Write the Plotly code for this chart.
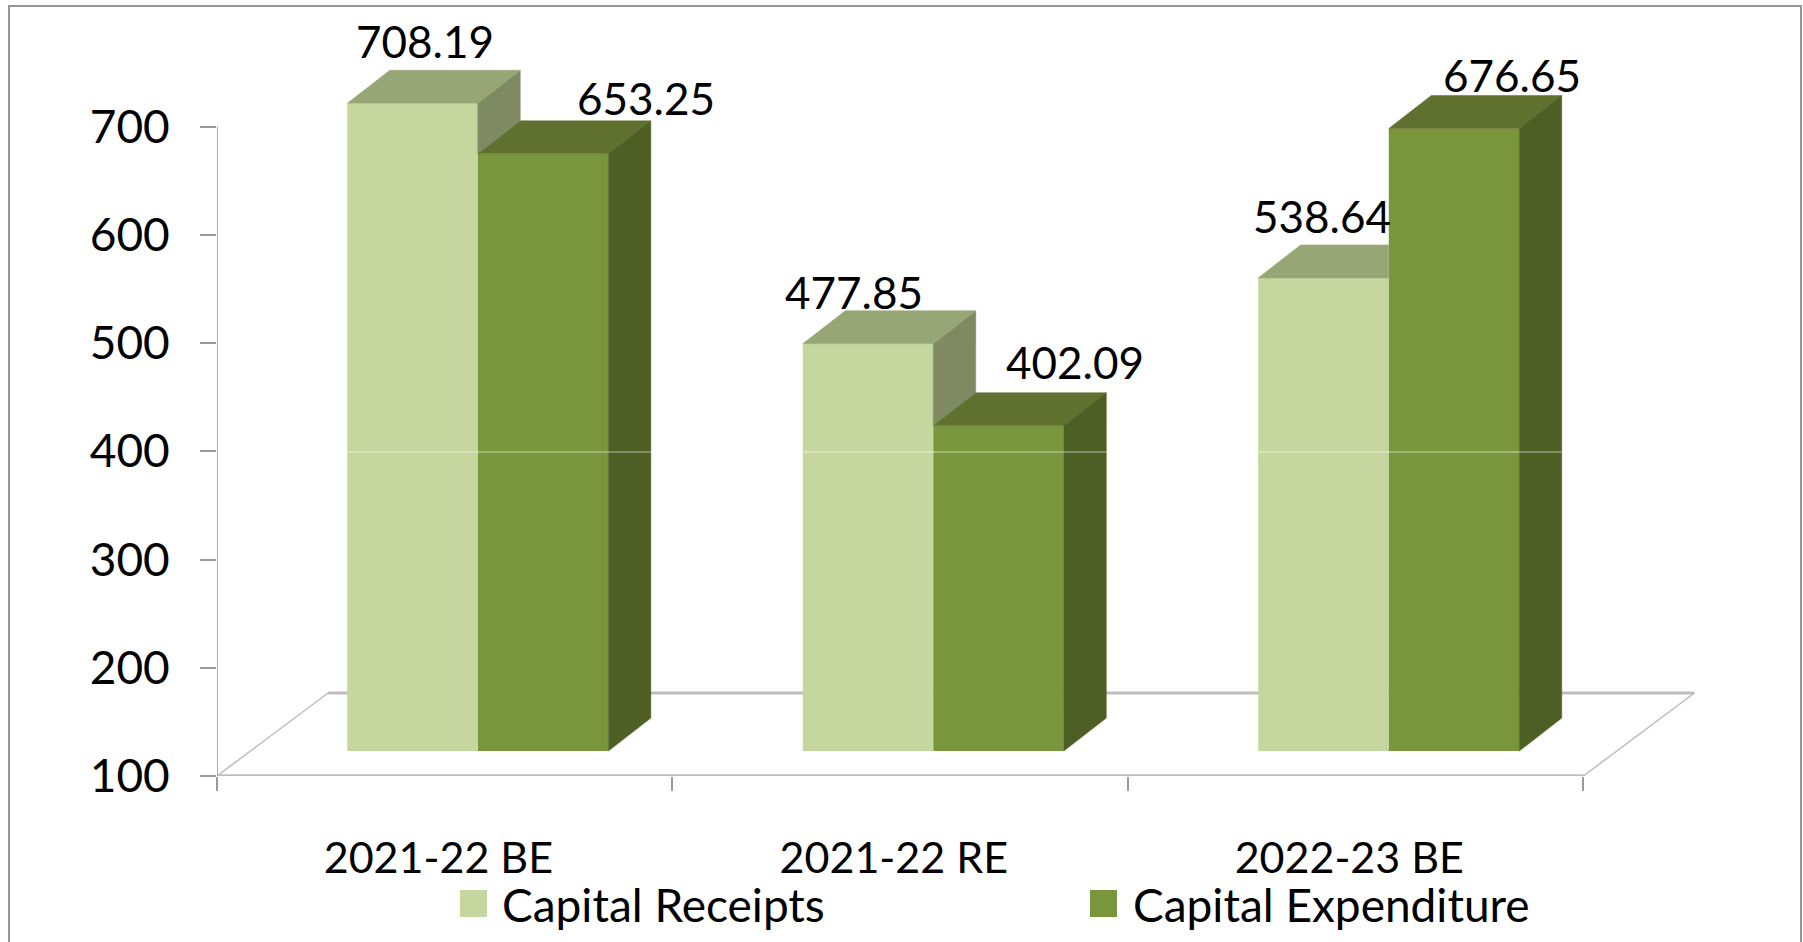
import plotly.graph_objects as go

# ---- data ----
categories = ["2021-22 BE", "2021-22 RE", "2022-23 BE"]
capital_receipts = [708.19, 477.85, 538.64]
capital_expenditure = [653.25, 402.09, 676.65]
series_names = ["Capital Receipts", "Capital Expenditure"]
y_ticks = [100, 200, 300, 400, 500, 600, 700]

# ---- layout constants ----
W, H = 1803, 942
FONT = "Lato"
FS_LABEL = 44
FS_TICK = 46
FS_CAT = 43
FS_LEGEND = 46
AXIS_MAX = 700            # the bars are clipped at the axis maximum
LIFT = 21.5               # front plane of the 3-D box, axis units
DEPTH_Y = 30.5            # depth of a bar, axis units
DEPTH_X = 0.0933          # depth of a bar, category units
BAR_W = 0.2865
LIGHT_C, DARK_C = -0.0707, 0.216
BASE = 123.0
FLOOR_DX, FLOOR_DY = 0.2438, 76.7
X_RANGE = [-0.5, 2.8]
Y_RANGE = [100, 770.7]
X_DOM = [217 / W, 1720 / W]
Y_DOM = [(H - 776) / H, (H - 50) / H]

COL_LIGHT, COL_DARK = "#C5D79E", "#7A963C"
COL_LIGHT_TOP, COL_DARK_TOP = "#97A675", "#60702E"
COL_LIGHT_SIDE, COL_DARK_SIDE = "#7F8A62", "#4E5F25"
GREY = "#BDBDBD"
TICK = "#9A9A9A"

fig = go.Figure()


def poly(xs, ys, color, name):
    fig.add_trace(go.Scatter(
        x=xs + xs[:1], y=ys + ys[:1], mode="lines", fill="toself", fillcolor=color,
        line=dict(color=color, width=0.5), xaxis="x2", yaxis="y2",
        hoverinfo="skip", showlegend=False, name=name))


# floor and axis lines on the base axes (below the bars)
fig.add_trace(go.Scatter(
    x=[-0.5, -0.5 + FLOOR_DX], y=[100, 100 + FLOOR_DY], mode="lines",
    line=dict(color=GREY, width=1.5), hoverinfo="skip", showlegend=False))
fig.add_trace(go.Scatter(
    x=[-0.5 + FLOOR_DX, 2.5 + FLOOR_DX], y=[100 + FLOOR_DY, 100 + FLOOR_DY], mode="lines",
    line=dict(color=GREY, width=3), hoverinfo="skip", showlegend=False))
fig.add_trace(go.Scatter(
    x=[2.5 + FLOOR_DX, 2.5], y=[100 + FLOOR_DY, 100], mode="lines",
    line=dict(color=GREY, width=1.5), hoverinfo="skip", showlegend=False))
fig.add_trace(go.Scatter(
    x=[-0.5, 2.5], y=[100, 100], mode="lines", cliponaxis=False,
    line=dict(color=GREY, width=3.5), hoverinfo="skip", showlegend=False))
fig.add_trace(go.Scatter(
    x=[-0.5, -0.5], y=[100, 700], mode="lines", cliponaxis=False,
    line=dict(color="#ADADAD", width=2), hoverinfo="skip", showlegend=False))

light_x = [i + LIGHT_C for i in range(3)]
dark_x = [i + DARK_C for i in range(3)]
light_top = [min(v, AXIS_MAX) + LIFT for v in capital_receipts]
dark_top = [min(v, AXIS_MAX) + LIFT for v in capital_expenditure]

# front faces
fig.add_trace(go.Bar(
    x=light_x, y=[t - BASE for t in light_top], base=BASE, width=BAR_W,
    marker=dict(color=COL_LIGHT, line=dict(width=0)), name=series_names[0],
    customdata=capital_receipts, hovertemplate="%{customdata}<extra>" + series_names[0] + "</extra>",
    xaxis="x2", yaxis="y2", showlegend=False))
fig.add_trace(go.Bar(
    x=dark_x, y=[t - BASE for t in dark_top], base=BASE, width=BAR_W,
    marker=dict(color=COL_DARK, line=dict(width=0)), name=series_names[1],
    customdata=capital_expenditure, hovertemplate="%{customdata}<extra>" + series_names[1] + "</extra>",
    xaxis="x2", yaxis="y2", showlegend=False))

# top and side faces, worked out from the same values
for i in range(3):
    lx0, lx1 = light_x[i] - BAR_W / 2, light_x[i] + BAR_W / 2
    dx0, dx1 = dark_x[i] - BAR_W / 2, dark_x[i] + BAR_W / 2
    lt, dt = light_top[i], dark_top[i]
    if lt > dt:
        poly([lx1, lx1 + DEPTH_X, lx1 + DEPTH_X, lx1], [lt, lt + DEPTH_Y, dt + DEPTH_Y, dt],
             COL_LIGHT_SIDE, "side")
        poly([lx0, lx1, lx1 + DEPTH_X, lx0 + DEPTH_X], [lt, lt, lt + DEPTH_Y, lt + DEPTH_Y],
             COL_LIGHT_TOP, "top")
    else:
        poly([lx0, lx1, lx1, lx0 + DEPTH_X], [lt, lt, lt + DEPTH_Y, lt + DEPTH_Y],
             COL_LIGHT_TOP, "top")
    poly([dx0, dx1, dx1 + DEPTH_X, dx0 + DEPTH_X], [dt, dt, dt + DEPTH_Y, dt + DEPTH_Y],
         COL_DARK_TOP, "top")
    poly([dx1, dx1 + DEPTH_X, dx1 + DEPTH_X, dx1], [BASE, BASE + DEPTH_Y, dt + DEPTH_Y, dt],
         COL_DARK_SIDE, "side")

# pale line of the 400 level across the front of the bars
gx, gy = [], []
for i in range(3):
    gx += [light_x[i] - BAR_W / 2, dark_x[i] + BAR_W / 2 + DEPTH_X, None]
    gy += [399.3, 399.3, None]
fig.add_trace(go.Scatter(
    x=gx, y=gy, mode="lines", line=dict(color="rgba(255,255,255,0.4)", width=1.5),
    xaxis="x2", yaxis="y2", hoverinfo="skip", showlegend=False))

# value labels: pixel shift from the bar's front top centre
label_shift_light = [(12.5, 62), (-14, 52), (-1, 62)]
label_shift_dark = [(103, 56), (76, 64), (58, 54)]
annotations = []
for xs, tops, vals, shifts in [(light_x, light_top, capital_receipts, label_shift_light),
                               (dark_x, dark_top, capital_expenditure, label_shift_dark)]:
    for x, t, v, (sx, sy) in zip(xs, tops, vals, shifts):
        annotations.append(dict(
            x=x, y=t, xref="x2", yref="y2", text=f"{v:.2f}", showarrow=False,
            xshift=sx, yshift=sy, xanchor="center", yanchor="middle",
            font=dict(family=FONT, size=FS_LABEL, color="black")))

# legend
shapes = []
for name, col, sx0, sx1, tx in [(series_names[0], COL_LIGHT, 460, 487, 500),
                                (series_names[1], COL_DARK, 1090, 1117, 1131)]:
    shapes.append(dict(type="rect", xref="paper", yref="paper",
                       x0=sx0 / W, x1=sx1 / W, y0=(H - 917) / H, y1=(H - 890) / H,
                       fillcolor=col, line=dict(width=0)))
    annotations.append(dict(
        x=tx / W, y=(H - 904) / H, xref="paper", yref="paper", text=name, showarrow=False,
        xanchor="left", yanchor="middle", font=dict(family=FONT, size=FS_LEGEND, color="black")))

# picture frame (runs off the bottom of the page)
shapes.append(dict(type="rect", xref="paper", yref="paper", x0=9 / W, x1=1801 / W,
                   y0=-0.05, y1=(H - 6) / H, line=dict(color="#969696", width=2),
                   fillcolor="rgba(0,0,0,0)", layer="below"))

fig.update_layout(
    width=W, height=H, autosize=False,
    margin=dict(l=0, r=0, t=0, b=0, pad=0),
    paper_bgcolor="white", plot_bgcolor="white",
    barmode="overlay", showlegend=False,
    font=dict(family=FONT, size=FS_CAT, color="black"),
    shapes=shapes, annotations=annotations,
    xaxis=dict(
        domain=X_DOM, range=X_RANGE, showgrid=False, zeroline=False, showline=False,
        tickmode="array", tickvals=[i - 0.014 for i in range(3)], ticktext=categories,
        ticks="", ticklabelstandoff=53, automargin=False,
        tickfont=dict(family=FONT, size=FS_CAT, color="black"),
        minor=dict(tickmode="array", tickvals=[-0.5, 0.5, 1.5, 2.5], ticks="outside",
                   ticklen=14, tickwidth=2, tickcolor=TICK, showgrid=False),
    ),
    yaxis=dict(
        domain=Y_DOM, range=Y_RANGE, showgrid=False, zeroline=False, showline=False,
        tickmode="array", tickvals=y_ticks, ticks="outside", ticklen=16, tickwidth=2,
        tickcolor=TICK, ticklabelstandoff=21, automargin=False,
        tickfont=dict(family=FONT, size=FS_TICK, color="black"),
    ),
    xaxis2=dict(domain=X_DOM, range=X_RANGE, overlaying="x", visible=False, anchor="y2"),
    yaxis2=dict(domain=Y_DOM, range=Y_RANGE, overlaying="y", visible=False, anchor="x2"),
)

fig.write_html("out.html", config=dict(displayModeBar=False, responsive=False),
               post_script="document.body.style.margin='0';document.documentElement.style.overflow='hidden';")
